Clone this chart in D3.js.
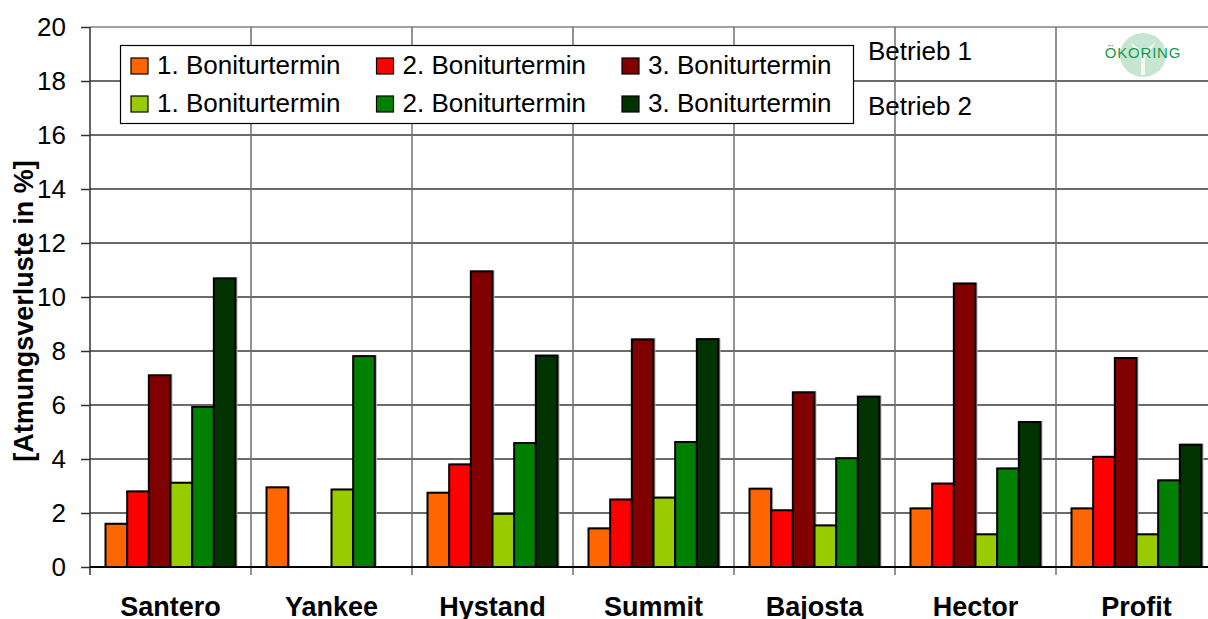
<!DOCTYPE html>
<html>
<head>
<meta charset="utf-8">
<script src="https://cdn.jsdelivr.net/npm/d3@7"></script>
<style>
  body { margin: 0; background: #fff; }
  svg { display: block; font-family: "Liberation Sans", Arial, sans-serif; }
</style>
</head>
<body>
<svg id="chart" width="1208" height="619"></svg>
<script>
// sorten
var categories = ['Santero', 'Yankee', 'Hystand', 'Summit', 'Bajosta', 'Hector', 'Profit'];
var seriesNames = ['1. Boniturtermin', '2. Boniturtermin', '3. Boniturtermin',
                   '1. Boniturtermin', '2. Boniturtermin', '3. Boniturtermin'];
var colors = ['#FF6600', '#FF0000', '#800000', '#99CC00', '#008000', '#003300'];

// Betrieb 1
var b1_t1 = [1.6, 2.95, 2.75, 1.43, 2.9, 2.17, 2.17];
var b1_t2 = [2.8, null, 3.8, 2.5, 2.1, 3.09, 4.08];
var b1_t3 = [7.1, null, 10.95, 8.43, 6.47, 10.5, 7.74];
// Betrieb 2
var b2_t1 = [3.12, 2.87, 1.97, 2.57, 1.54, 1.21, 1.21];
var b2_t2 = [5.93, 7.81, 4.59, 4.63, 4.03, 3.65, 3.21];
var b2_t3 = [10.69, null, 7.83, 8.44, 6.31, 5.37, 4.53];

var yTicks = [0, 2, 4, 6, 8, 10, 12, 14, 16, 18, 20];
var yTitle = '[Atmungsverluste in %]';
var betriebLabels = ['Betrieb 1', 'Betrieb 2'];

var allSeries = [b1_t1, b1_t2, b1_t3, b2_t1, b2_t2, b2_t3];

var svg = d3.select('#chart');
// window.top is read-only, so don't call it "top"
var plotL = 90, plotR = 1217, plotT = 27, plotB = 567;

var x = d3.scaleBand().domain(categories).range([plotL, plotR]);
var xs = d3.scaleBand().domain(d3.range(6)).range([15.5, x.bandwidth() - 15.5]);
var y = d3.scaleLinear().domain([0, 20]).range([plotB, plotT]);

// horizontal grid
svg.append('g').selectAll('line')
  .data(yTicks.filter(function(d) { return d > 0; }))
  .join('line')
  .attr('x1', plotL).attr('x2', 1208)
  .attr('y1', function(d) { return y(d); }).attr('y2', function(d) { return y(d); })
  .attr('stroke', function(d) { return d === 20 ? '#808080' : '#3a3a3a'; })
  .attr('stroke-width', 1.5);

// vertical grid between categories
svg.append('g').selectAll('line')
  .data(categories.slice(1))
  .join('line')
  .attr('x1', function(d) { return x(d); }).attr('x2', function(d) { return x(d); })
  .attr('y1', plotT).attr('y2', plotB + 8)
  .attr('stroke', '#707070')
  .attr('stroke-width', 1.5);

// logo (white backing)
svg.append('rect').attr('x', x('Profit') + 2).attr('y', plotT + 1).attr('width', 160).attr('height', y(18) - plotT - 2).attr('fill', '#fff');
svg.append('ellipse').attr('cx', 1143).attr('cy', 55).attr('rx', 23).attr('ry', 22).attr('fill', '#c6e5d2');
svg.append('path').attr('d', 'M1130,42 L1141,58 L1141,75 L1145,75 L1145,58 L1156,42 L1148,48 L1143,56 L1138,48 Z')
  .attr('fill', '#fff').attr('opacity', 0.8);
svg.append('text').attr('x', 1143).attr('y', 58).attr('text-anchor', 'middle')
  .attr('font-size', 15).attr('letter-spacing', 0.8).attr('fill', '#1a9a4a').text('ÖKORING');

// bars
var groups = svg.append('g').selectAll('g')
  .data(categories)
  .join('g')
  .attr('transform', function(d) { return 'translate(' + x(d) + ',0)'; });

groups.each(function(cat, ci) {
  var g = d3.select(this);
  var vals = allSeries.map(function(s, si) { return { si: si, v: s[ci] }; })
    .filter(function(d) { return d.v !== null; });
  g.selectAll('rect.sh').data(vals).join('rect')
    .attr('class', 'sh')
    .attr('x', function(d) { return xs(d.si) + 2; })
    .attr('y', function(d) { return y(d.v) - 1; })
    .attr('width', xs.bandwidth())
    .attr('height', function(d) { return plotB - y(d.v) + 1; })
    .attr('fill', '#b8b8b8');
  g.selectAll('rect.bar').data(vals).join('rect')
    .attr('class', 'bar')
    .attr('x', function(d) { return xs(d.si); })
    .attr('y', function(d) { return y(d.v); })
    .attr('width', xs.bandwidth())
    .attr('height', function(d) { return plotB - y(d.v); })
    .attr('fill', function(d) { return colors[d.si]; })
    .attr('stroke', '#000')
    .attr('stroke-width', 2);
});

// y axis
var yAxis = svg.append('g')
  .attr('transform', 'translate(' + plotL + ',0)')
  .call(d3.axisLeft(y).tickValues(yTicks).tickSize(9).tickPadding(15));
yAxis.select('.domain').attr('stroke', '#303030').attr('stroke-width', 1.5)
  .attr('d', 'M0,' + plotT + 'V' + (plotB + 8));
yAxis.selectAll('.tick line').attr('stroke', '#303030').attr('stroke-width', 1.5);
yAxis.selectAll('.tick text').attr('font-size', 26).attr('fill', '#000')
  .attr('font-family', '"Liberation Sans", Arial, sans-serif');

// zero line
svg.append('line').attr('x1', plotL).attr('x2', 1208)
  .attr('y1', plotB).attr('y2', plotB).attr('stroke', '#000').attr('stroke-width', 2);

// x labels
svg.append('g').selectAll('text')
  .data(categories)
  .join('text')
  .attr('x', function(d) { return x(d) + x.bandwidth() / 2; })
  .attr('y', 616)
  .attr('text-anchor', 'middle')
  .attr('font-size', 27)
  .attr('font-weight', 'bold')
  .text(function(d) { return d; });

// y title
svg.append('text')
  .attr('transform', 'translate(33,311) rotate(-90)')
  .attr('text-anchor', 'middle')
  .attr('font-size', 27)
  .attr('font-weight', 'bold')
  .text(yTitle);

// legend
var lg = svg.append('g');
lg.append('rect').attr('x', 120.5).attr('y', 45.5).attr('width', 733).attr('height', 78)
  .attr('fill', '#fff').attr('stroke', '#000').attr('stroke-width', 1.2);
var items = lg.selectAll('g').data(seriesNames).join('g')
  .attr('transform', function(d, i) {
    return 'translate(' + (131 + (i % 3) * 245.5) + ',' + (i < 3 ? 58 : 96) + ')';
  });
items.append('rect').attr('width', 17).attr('height', 16)
  .attr('fill', function(d, i) { return colors[i]; })
  .attr('stroke', '#000').attr('stroke-width', 1.2);
items.append('text').attr('x', 26).attr('y', 16)
  .attr('font-size', 26).text(function(d) { return d; });

// betrieb labels
svg.append('g').selectAll('text').data(betriebLabels).join('text')
  .attr('x', 868).attr('y', function(d, i) { return 60 + i * 55; })
  .attr('font-size', 26).text(function(d) { return d; });
</script>
</body>
</html>
